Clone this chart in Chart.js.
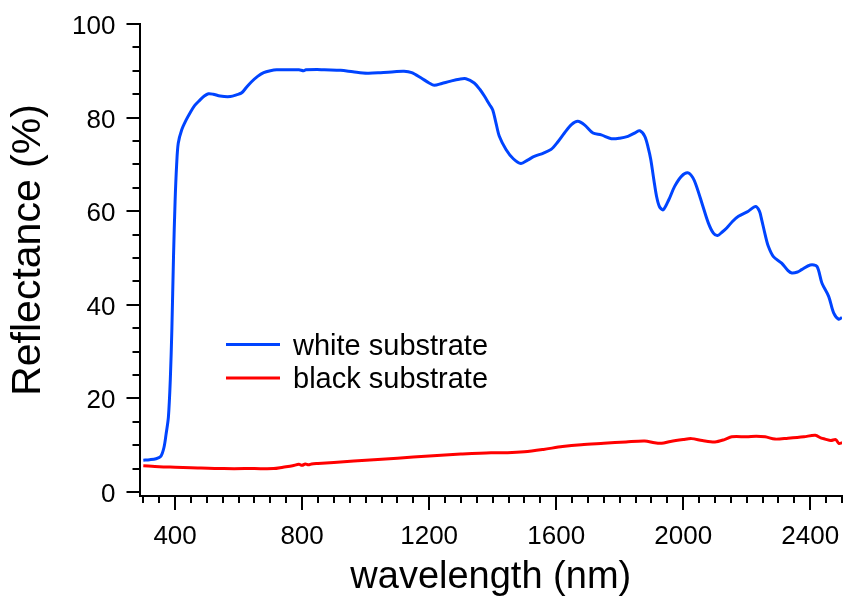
<!DOCTYPE html>
<html>
<head>
<meta charset="utf-8">
<script src="https://cdn.jsdelivr.net/npm/chart.js@4.4.1/dist/chart.umd.min.js"></script>
<style>
  html, body { margin: 0; padding: 0; background: #fff; }
  canvas { display: block; }
</style>
</head>
<body>
<canvas id="c" width="846" height="598"></canvas>
<script>
// ---- data ----
const seriesNames = ['white substrate', 'black substrate'];
const seriesColors = ['#0044ff', '#ff0000'];

const whiteWl = [300,320,340,355,365,372,379,385,390,395,400,405,410,421,435,447,462,479,492,505,520,542,574,595,610,625,640,660,679,700,720,760,790,805,812,847,870,921,960,1005,1047,1090,1121,1145,1174,1200,1216,1240,1268,1295,1316,1342,1360,1374,1390,1400,1410,1421,1442,1465,1489,1510,1531,1560,1584,1605,1626,1648,1668,1690,1716,1742,1774,1800,1826,1850,1863,1879,1890,1898,1908,1916,1925,1937,1955,1973,1995,2014,2030,2042,2060,2079,2095,2108,2122,2137,2155,2174,2205,2228,2240,2247,2258,2268,2284,2310,2330,2342,2360,2373,2400,2421,2437,2458,2474,2490,2500];
const whiteR = [6.8,6.9,7.1,7.6,9.5,12.5,16,24,35,50,62,70,74.5,77.4,79.5,81,82.6,83.8,84.6,85.1,85.0,84.6,84.5,84.9,85.3,86.5,87.6,88.8,89.6,90.0,90.2,90.2,90.2,90.0,90.2,90.3,90.2,90.1,89.8,89.5,89.6,89.8,89.9,89.6,88.5,87.4,86.9,87.3,87.8,88.2,88.3,87.4,86.0,84.6,82.8,81.7,79.0,76.0,73.2,71.2,70.2,70.9,71.7,72.4,73.2,74.8,76.7,78.5,79.2,78.4,76.7,76.3,75.5,75.6,76.0,76.8,77.2,76.0,73.5,71.0,66.5,63.2,61.0,60.3,62.5,65.3,67.5,68.2,67.2,65.3,61.5,57.5,55.3,54.8,55.5,56.4,57.8,58.9,60.0,61.0,60.0,58.2,55.0,52.5,50.3,48.9,47.3,46.8,47.0,47.5,48.5,48.2,44.6,41.8,38.2,36.9,37.3];

const blackWl = [300,350,400,450,553,650,710,740,770,790,800,810,820,830,850,900,1026,1100,1200,1300,1395,1447,1500,1560,1620,1679,1750,1820,1879,1910,1932,1960,2000,2026,2060,2100,2130,2153,2200,2230,2258,2289,2330,2380,2416,2435,2447,2465,2480,2490,2500];
const blackR = [5.6,5.4,5.3,5.2,5.0,5.0,5.0,5.3,5.6,5.9,5.7,6.0,5.8,6.0,6.1,6.3,6.9,7.2,7.7,8.1,8.4,8.4,8.6,9.1,9.7,10.1,10.4,10.7,10.9,10.5,10.4,10.8,11.2,11.4,11.0,10.7,11.2,11.8,11.8,11.9,11.8,11.3,11.5,11.8,12.1,11.5,11.3,11.0,11.2,10.4,10.5];

const xTicks = [400, 800, 1200, 1600, 2000, 2400];
const xMinorTicks = [];
for (let v = 300; v <= 2500; v += 50) xMinorTicks.push(v);
const yTicks = [0, 20, 40, 60, 80, 100];
const yMinorTicks = [];
for (let v = 0; v <= 100; v += 5) yMinorTicks.push(v);

const xTitle = 'wavelength (nm)';
const yTitle = 'Reflectance (%)';

// ---- chart ----
const FONT = '"Liberation Sans", Arial, Helvetica, sans-serif';
const toPts = (xs, ys) => xs.map((x, i) => ({ x: x, y: ys[i] }));

const axisPlugin = {
  id: 'axisDecor',
  afterDraw(chart) {
    const ctx = chart.ctx;
    const xs = chart.scales.x, ys = chart.scales.y;
    const area = chart.chartArea;
    ctx.save();
    ctx.strokeStyle = '#000';
    ctx.lineWidth = 2;
    ctx.beginPath();
    xMinorTicks.forEach(v => {
      const p = Math.round(xs.getPixelForValue(v));
      const len = xTicks.includes(v) ? 14 : 7;
      ctx.moveTo(p, area.bottom);
      ctx.lineTo(p, area.bottom + len);
    });
    yMinorTicks.forEach(v => {
      const p = Math.round(ys.getPixelForValue(v));
      const len = yTicks.includes(v) ? 13 : 7;
      ctx.moveTo(area.left, p);
      ctx.lineTo(area.left - len, p);
    });
    ctx.stroke();

    // tick labels
    ctx.fillStyle = '#000';
    ctx.font = '26px ' + FONT;
    ctx.textAlign = 'center';
    ctx.textBaseline = 'alphabetic';
    xTicks.forEach(v => {
      ctx.fillText(String(v), xs.getPixelForValue(v), area.bottom + 48);
    });
    ctx.textAlign = 'right';
    yTicks.forEach(v => {
      ctx.fillText(String(v), area.left - 24, ys.getPixelForValue(v) + 10);
    });

    // axis titles
    ctx.font = '38px ' + FONT;
    ctx.textAlign = 'center';
    ctx.fillText(xTitle, (area.left + area.right) / 2, 588);

    ctx.font = '41px ' + FONT;
    ctx.textBaseline = 'middle';
    ctx.translate(29, 250);
    ctx.rotate(-Math.PI / 2);
    ctx.fillText(yTitle, 0, 0);
    ctx.restore();
  }
};

const legendPlugin = {
  id: 'innerLegend',
  afterDraw(chart) {
    const ctx = chart.ctx;
    ctx.save();
    const rows = [344.5, 378];
    chart.data.datasets.forEach((ds, i) => {
      const y = rows[i];
      ctx.strokeStyle = ds.borderColor;
      ctx.lineWidth = 3;
      ctx.beginPath();
      ctx.moveTo(226, y);
      ctx.lineTo(280, y);
      ctx.stroke();
      ctx.fillStyle = '#000';
      ctx.font = '29px ' + FONT;
      ctx.textBaseline = 'alphabetic';
      ctx.textAlign = 'left';
      ctx.fillText(ds.label, 293, y + 10);
    });
    ctx.restore();
  }
};

new Chart(document.getElementById('c'), {
  type: 'line',
  data: {
    datasets: [
      { label: seriesNames[0], data: toPts(whiteWl, whiteR), borderColor: seriesColors[0], borderWidth: 3, pointRadius: 0, tension: 0.3, fill: false },
      { label: seriesNames[1], data: toPts(blackWl, blackR), borderColor: seriesColors[1], borderWidth: 3, pointRadius: 0, tension: 0.3, fill: false }
    ]
  },
  options: {
    responsive: false,
    animation: false,
    devicePixelRatio: 1,
    layout: { padding: { top: 24, right: 4, left: 0, bottom: 0 } },
    plugins: { legend: { display: false }, tooltip: { enabled: false } },
    scales: {
      x: {
        type: 'linear',
        min: 288,
        max: 2500,
        afterFit: s => { s.height = 102; },
        grid: { display: false },
        border: { display: true, color: '#000', width: 2 },
        ticks: { display: false },
        title: { display: false }
      },
      y: {
        type: 'linear',
        min: -0.86,
        max: 100,
        afterFit: s => { s.width = 139.5; },
        grid: { display: false },
        border: { display: true, color: '#000', width: 2 },
        ticks: { display: false },
        title: { display: false }
      }
    }
  },
  plugins: [axisPlugin, legendPlugin]
});
</script>
</body>
</html>
